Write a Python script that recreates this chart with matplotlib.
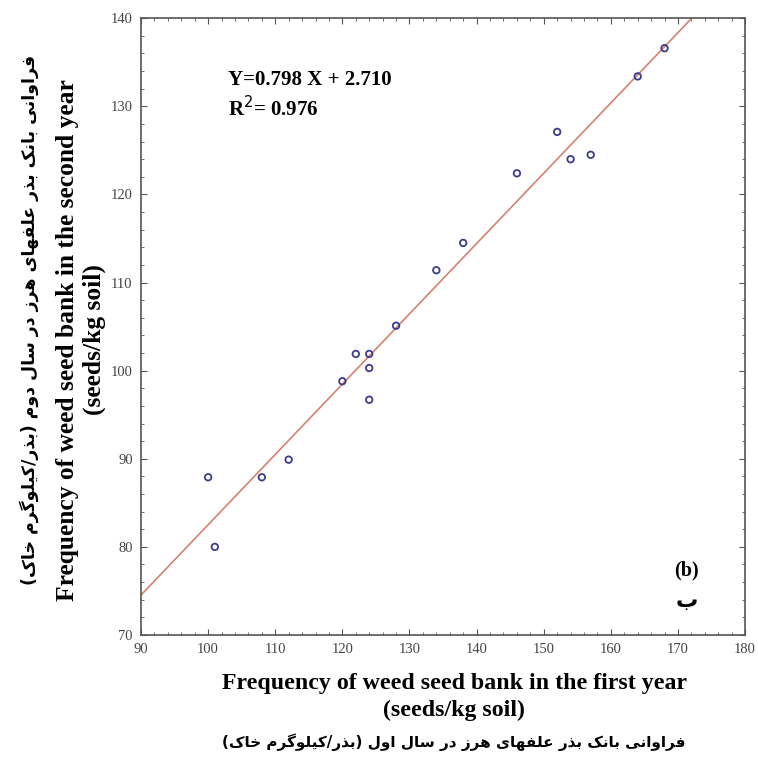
import numpy as np
import matplotlib.pyplot as plt
from matplotlib.ticker import MultipleLocator, AutoMinorLocator

# first year vs second year seed bank (seeds/kg soil)
first_year = [100, 101, 108, 112, 120, 122, 124, 124, 124, 128, 134, 138, 146, 152, 154, 157, 164, 168]
second_year = [87.9, 80.0, 87.9, 89.9, 98.8, 101.9, 101.9, 100.3, 96.7, 105.1, 111.4, 114.5, 122.4, 127.1, 124.0, 124.5, 133.4, 136.6]
slope, intercept, r2 = 0.798, 2.710, 0.976

xlabel_en = "Frequency of weed seed bank in the first year\n(seeds/kg soil)"
ylabel_en = "Frequency of weed seed bank in the second year\n(seeds/kg soil)"
xlabel_fa = "فراوانی بانک بذر علفهای هرز در سال اول (بذر/کیلوگرم خاک)"
ylabel_fa = "فراوانی بانک بذر علفهای هرز در سال دوم (بذر/کیلوگرم خاک)"

# crude arabic shaping: (isolated, final, initial, medial)
FORMS = {
    'ا': ('\uFE8D', '\uFE8E', None, None),
    'ب': ('\uFE8F', '\uFE90', '\uFE91', '\uFE92'),
    'خ': ('\uFEA5', '\uFEA6', '\uFEA7', '\uFEA8'),
    'د': ('\uFEA9', '\uFEAA', None, None),
    'ذ': ('\uFEAB', '\uFEAC', None, None),
    'ر': ('\uFEAD', '\uFEAE', None, None),
    'ز': ('\uFEAF', '\uFEB0', None, None),
    'س': ('\uFEB1', '\uFEB2', '\uFEB3', '\uFEB4'),
    'ع': ('\uFEC9', '\uFECA', '\uFECB', '\uFECC'),
    'ف': ('\uFED1', '\uFED2', '\uFED3', '\uFED4'),
    'ل': ('\uFEDD', '\uFEDE', '\uFEDF', '\uFEE0'),
    'م': ('\uFEE1', '\uFEE2', '\uFEE3', '\uFEE4'),
    'ن': ('\uFEE5', '\uFEE6', '\uFEE7', '\uFEE8'),
    'ه': ('\uFEE9', '\uFEEA', '\uFEEB', '\uFEEC'),
    'و': ('\uFEED', '\uFEEE', None, None),
    'ی': ('\uFBFC', '\uFBFD', '\uFBFE', '\uFBFF'),
    'ک': ('\uFB8E', '\uFB8F', '\uFB90', '\uFB91'),
    'گ': ('\uFB92', '\uFB93', '\uFB94', '\uFB95'),
}
MIRROR = {'(': ')', ')': '('}


def shape(s):
    out = []
    for i, ch in enumerate(s):
        if ch not in FORMS:
            out.append(MIRROR.get(ch, ch))
            continue
        f = FORMS[ch]
        prev = s[i - 1] if i > 0 else ''
        nxt = s[i + 1] if i + 1 < len(s) else ''
        join_prev = prev in FORMS and FORMS[prev][2] is not None
        join_next = nxt in FORMS and f[2] is not None
        if join_prev and join_next:
            out.append(f[3])
        elif join_prev:
            out.append(f[1])
        elif join_next:
            out.append(f[2])
        else:
            out.append(f[0])
    return ''.join(out[::-1])


plt.rcParams['font.family'] = ['Liberation Serif', 'DejaVu Sans']

fig = plt.figure(figsize=(7.58, 7.60), dpi=100)
ax = fig.add_axes([0.186, 0.1645, 0.797, 0.8115])

ax.scatter(first_year, second_year, s=22, facecolors='none', edgecolors='#3c3c8c', linewidths=1.3, zorder=3)
xs = np.array([90, 180])
ax.plot(xs, slope * xs + intercept, color='#d4826e', lw=1.2, zorder=2)

ax.set_xlim(90, 180)
ax.set_ylim(70, 140)
ax.xaxis.set_major_locator(MultipleLocator(10))
ax.yaxis.set_major_locator(MultipleLocator(10))
ax.xaxis.set_minor_locator(AutoMinorLocator(5))
ax.yaxis.set_minor_locator(AutoMinorLocator(5))
ax.tick_params(which='both', direction='in', top=True, right=True, colors='#555555',
               labelcolor='#444444', labelsize=10.5)
ax.tick_params(which='major', length=4, pad=6)
ax.tick_params(which='minor', length=2)
for sp in ax.spines.values():
    sp.set_color('#555555')
    sp.set_linewidth(1.2)

ax.text(102.9, 133.0, f"Y={slope:.3f} X + {intercept:.3f}", fontsize=15, fontweight='bold', va='center')
ax.text(102.9, 129.8, f"R$^2$= {r2:.3f}", fontsize=15, fontweight='bold', va='center')
ax.text(171.3, 77.3, "(b)", fontsize=14.5, fontweight='bold', ha='center', va='center')
ax.text(171.3, 73.9, shape('ب'), fontsize=16, fontweight='bold', ha='center', va='center',
        family='DejaVu Sans')

fig.text(0.599, 0.083, xlabel_en, fontsize=17.2, fontweight='bold', ha='center', va='center',
         linespacing=1.4)
fig.text(0.599, 0.024, shape(xlabel_fa), fontsize=11, fontweight='bold', ha='center', va='center',
         family='DejaVu Sans')
fig.text(0.107, 0.553, ylabel_en, fontsize=18.4, fontweight='bold', ha='center', va='center',
         rotation=90, linespacing=1.2)
fig.text(0.038, 0.579, shape(ylabel_fa), fontsize=12.5, fontweight='bold', ha='center', va='center',
         rotation=90, family='DejaVu Sans')

fig.savefig("out.png", dpi=100)
